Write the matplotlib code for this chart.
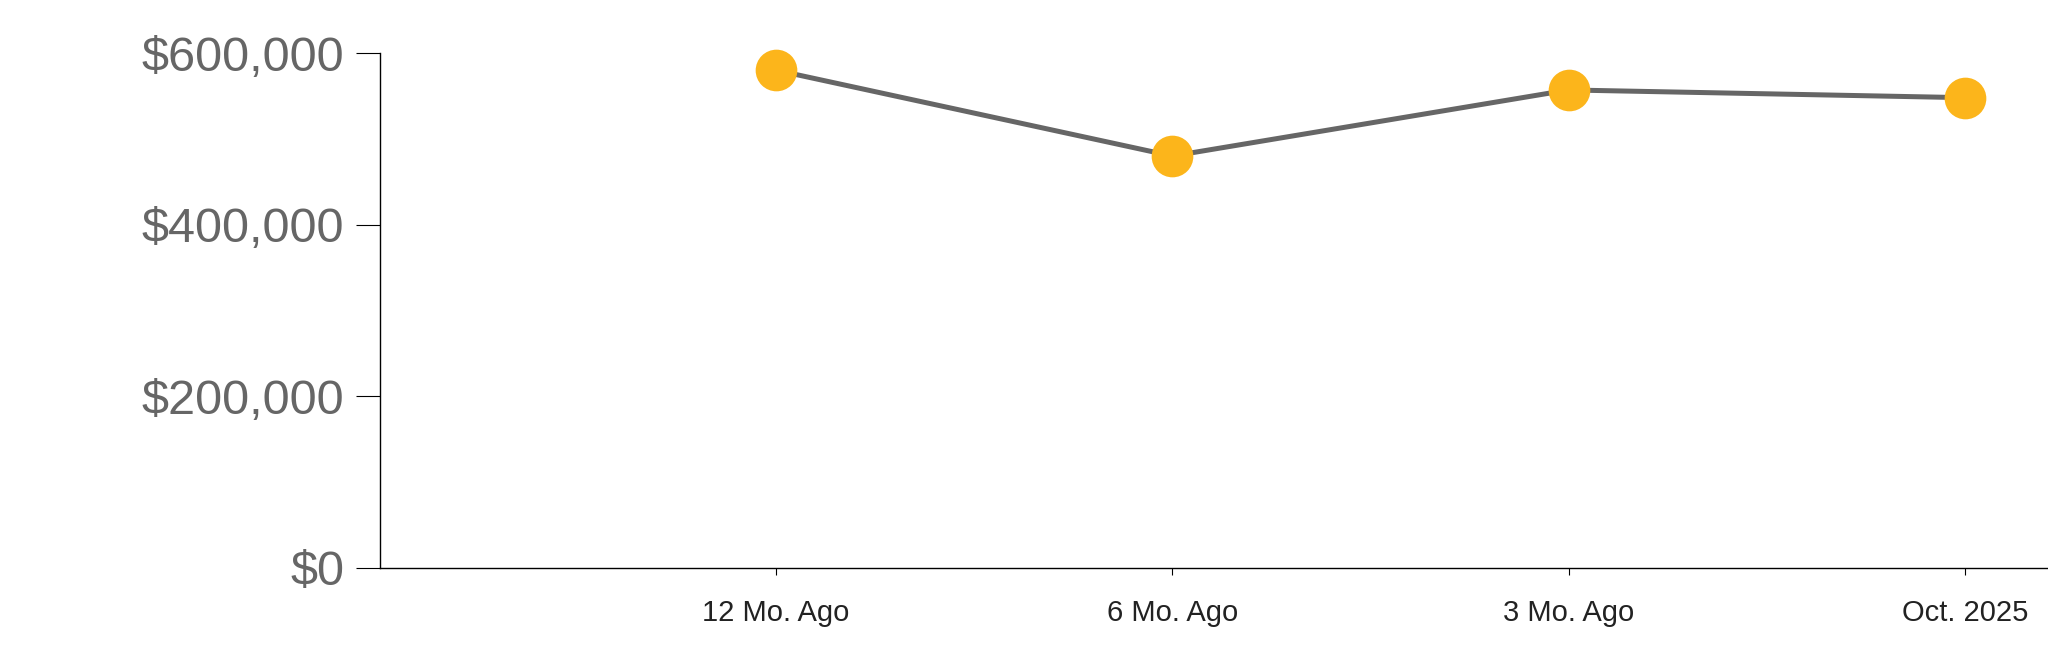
import matplotlib
matplotlib.use("Agg")
import matplotlib.pyplot as plt
from matplotlib.ticker import FuncFormatter

# data
periods = ["12 Mo. Ago", "6 Mo. Ago", "3 Mo. Ago", "Oct. 2025"]
prices = [580000, 480000, 557000, 548000]
y_ticks = [0, 200000, 400000, 600000]

plt.rcParams['font.family'] = ['Liberation Sans', 'DejaVu Sans']

fig = plt.figure(figsize=(20.48, 6.63), dpi=100)
ax = fig.add_axes([0.1855, 0.1433, 1 - 0.1855, 0.920 - 0.1433])

x = list(range(1, len(periods) + 1))
ax.plot(x, prices, color='#666666', linewidth=3.6, zorder=2, clip_on=False)
ax.plot(x, prices, 'o', color='#FCB51B', markersize=30, markeredgewidth=0,
        zorder=3, clip_on=False)

ax.set_xlim(0, 4.21)
ax.set_ylim(0, 600000)
ax.set_xticks(x)
ax.set_xticklabels(periods)
ax.set_yticks(y_ticks)
ax.yaxis.set_major_formatter(FuncFormatter(lambda v, p: '${:,.0f}'.format(v)))

for s in ['top', 'right']:
    ax.spines[s].set_visible(False)
for s in ['left', 'bottom']:
    ax.spines[s].set_linewidth(1.0)
    ax.spines[s].set_color('black')

ax.tick_params(axis='y', length=17, width=0.8, pad=8.5, labelsize=35, labelcolor='#666666')
ax.tick_params(axis='x', length=5, width=0.8, pad=17, labelsize=21, labelcolor='#222222')

fig.savefig('out.png', dpi=100)
